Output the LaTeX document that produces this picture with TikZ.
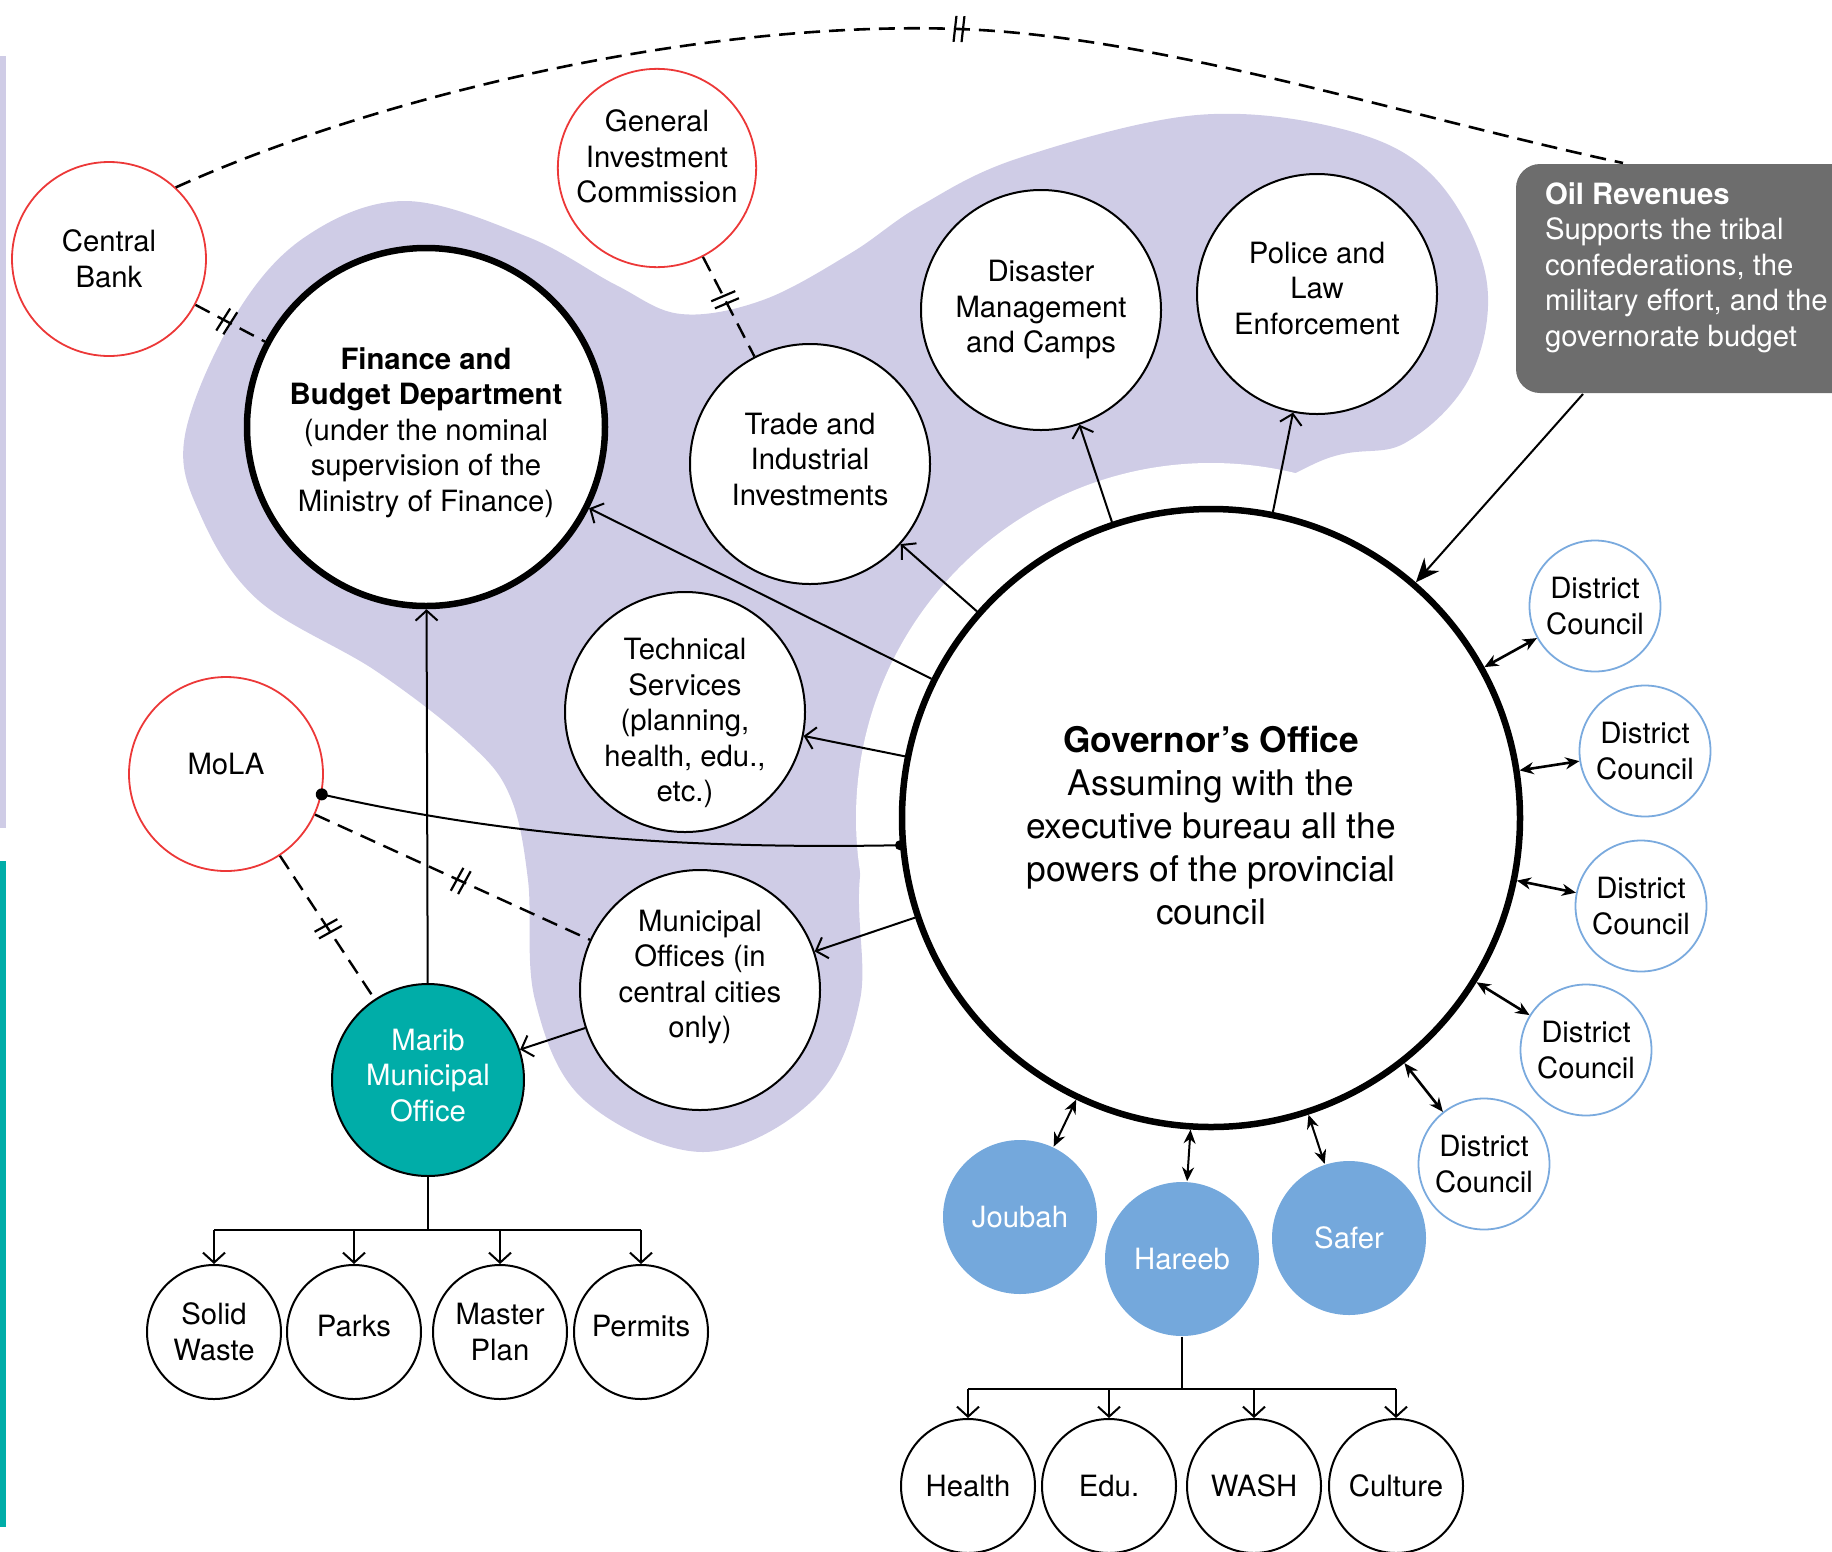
\documentclass[tikz,border=0pt]{standalone}
\usepackage{fontspec}
\setmainfont{TeX Gyre Heros}
\usetikzlibrary{arrows.meta}
\definecolor{lav}{RGB}{207,204,230}
\definecolor{mteal}{RGB}{0,173,168}
\definecolor{cred}{RGB}{236,56,56}
\definecolor{cblue}{RGB}{122,170,222}
\definecolor{dblue}{RGB}{116,168,220}
\definecolor{oilgray}{RGB}{109,109,109}

\begin{document}
\begin{tikzpicture}[x=1pt, y=-1pt, line width=2pt, >={Straight Barb[length=10pt,width=22pt]},
		font=\fontsize{29.3}{35.5}\selectfont,
		bubble/.style={circle, draw, fill=white, inner sep=0pt, align=center, minimum size=#1},
		bigbubble/.style={bubble=#1, line width=6.5pt},
		redc/.style={bubble=194, draw=cred, line width=1.8pt},
		dcnode/.style={bubble=131, draw=cblue, line width=1.8pt},
		town/.style={bubble=154, draw=none, fill=dblue, text=white},
		leaf/.style={bubble=134},
		brkline/.style={dash pattern=on 16pt off 9pt, line width=2.4pt},
		dca/.style={{Stealth[length=14pt,width=12pt]}-{Stealth[length=14pt,width=12pt]}, line width=2.6pt},
		brk/.pic={\draw [solid, line width=2.2pt] (-5,13) -- (-3,-13) (3,13) -- (5,-13);}]
	\useasboundingbox (0,0) rectangle (1832,1551);
	\clip (0,0) rectangle (1832,1551);
	\fill [lav] (0,56) rectangle (6,828);
	\fill [mteal] (0,861) rectangle (6,1527);
	\fill [lav] plot [smooth cycle, tension=0.6] coordinates {(185,435) (200,514) (258,600)
		(376,671) (469,743) (510,796) (528,880) (535,1000) (584,1100) (703,1152) (813,1100)
		(860,1000) (865,850) (950,690) (1150,560) (1316,463) (1405,443) (1471,375) (1486,277)
		(1435,178) (1346,130) (1197,115) (1019,158) (920,206) (851,253) (763,300) (681,314)
		(616,285) (528,237) (405,201) (305,237) (235,316)};
	\coordinate (gc) at (1211,818);
	\fill [white] (gc) circle [radius=355pt];

	\node (cb) [redc] at (109,259) {Central\\Bank};
	\node (gic) [redc, text depth=23pt] at (657,168) {General\\Investment\\Commission};
	\node (fin) [bigbubble=358, text height=175pt] at (426,427) {\textbf{Finance and}\\\textbf{Budget Department}\\(under the nominal\\supervision of the\\Ministry of Finance)};
	\node (trade) [bubble=240, text depth=10pt] at (810,464) {Trade and\\Industrial\\Investments};
	\node (dis) [bubble=240] at (1041,310) {Disaster\\Management\\and Camps};
	\node (pol) [bubble=240, text depth=12pt] at (1317,294) {Police and\\Law\\Enforcement};
	\node (tech) [bubble=240, inner sep=-5pt, text height=179pt, text depth=0pt] at (685,712) {Technical\\Services\\(planning,\\health, edu.,\\etc.)};
	\node (muni) [bubble=240, text depth=32pt] at (700,990) {Municipal\\Offices (in\\central cities\\only)};
	\node (mola) [redc, text depth=21pt] at (226,774) {MoLA};
	\node (marib) [bubble=192, fill=mteal, text=white, text depth=10pt] at (428,1080) {Marib\\Municipal\\Office};
	\node (gov) [bigbubble=618, font=\fontsize{35.3}{43}\selectfont, text height=213pt] at (gc) {\textbf{Governor’s Office}\\Assuming with the\\executive bureau all the\\powers of the provincial\\council};
	\node (oil) [anchor=north west, fill=oilgray, rounded corners=24pt, text=white, inner xsep=29pt,
		minimum height=229pt, text depth=28pt, align=left] at (1515,163) {\textbf{Oil Revenues}\\Supports the tribal\\confederations, the\\military effort, and the\\governorate budget};

	\foreach \x/\y [count=\i] in {1595/606, 1645/751, 1641/906, 1586/1050, 1484/1164} {
		\node (dc\i) [dcnode] at (\x,\y) {District\\Council};
		\draw [dca] (gov) -- (dc\i);
	}
	\node (jou) [town] at (1020,1217) {Joubah};
	\node (har) [town] at (1182,1259) {Hareeb};
	\node (saf) [town] at (1349,1238) {Safer};
	\foreach \n in {jou,har,saf}
		\draw [dca, line width=2pt] (gov) -- (\n);

	\node (sw) [leaf] at (214,1332) {Solid\\Waste};
	\node (parks) [leaf, text depth=12pt] at (354,1332) {Parks};
	\node (mp) [leaf] at (500,1332) {Master\\Plan};
	\node (perm) [leaf, text depth=12pt] at (641,1332) {Permits};
	\node (hlth) [leaf] at (968,1486) {Health};
	\node (edu) [leaf] at (1109,1486) {Edu.};
	\node (wash) [leaf] at (1254,1486) {WASH};
	\node (cult) [leaf] at (1396,1486) {Culture};

	\foreach \n in {fin,trade,dis,pol,tech,muni}
		\draw [->] (gov) -- (\n);
	\draw [->] (muni) -- (marib);
	\draw [->] (marib) -- (fin);
	\draw [-{Stealth[length=24pt,width=20pt]}] ([xshift=68pt]oil.south west) -- (gov.49);

	\draw [brkline] (cb) -- pic [pos=0.45, sloped] {brk} (fin);
	\draw [brkline] (gic) -- pic [pos=0.43, sloped] {brk} (trade);
	\draw [brkline] (mola) -- pic [pos=0.53, sloped] {brk} (muni);
	\draw [brkline] (mola) -- pic [pos=0.51, sloped] {brk} (marib);
	\coordinate (ab) at (959,29);
	\draw [brkline, line width=2.6pt] (cb.47) .. controls (380,95) and (700,20) .. (ab)
		.. controls (1159,36) and (1400,115) .. ([xshift=108pt]oil.north west);
	\pic [rotate=-2] at (ab) {brk};

	\draw (mola.348) .. controls (480,830) and (650,850) .. (gov.185);
	\fill (mola.348) circle [radius=6pt];
	\fill (gov.185) circle [radius=5pt];

	\path (sw.north) ++(0,-34) coordinate (mbl) (perm.north) ++(0,-34) coordinate (mbr);
	\draw (mbl) -- (mbr);
	\draw (marib) -- (marib |- mbl);
	\foreach \n in {sw,parks,mp,perm}
		\draw [->] (\n.north |- mbl) -- (\n);
	\path (hlth.north) ++(0,-29) coordinate (hbl) (cult.north) ++(0,-29) coordinate (hbr);
	\draw (hbl) -- (hbr);
	\draw (har) -- (har |- hbl);
	\foreach \n in {hlth,edu,wash,cult}
		\draw [->] (\n.north |- hbl) -- (\n);
\end{tikzpicture}
\end{document}
